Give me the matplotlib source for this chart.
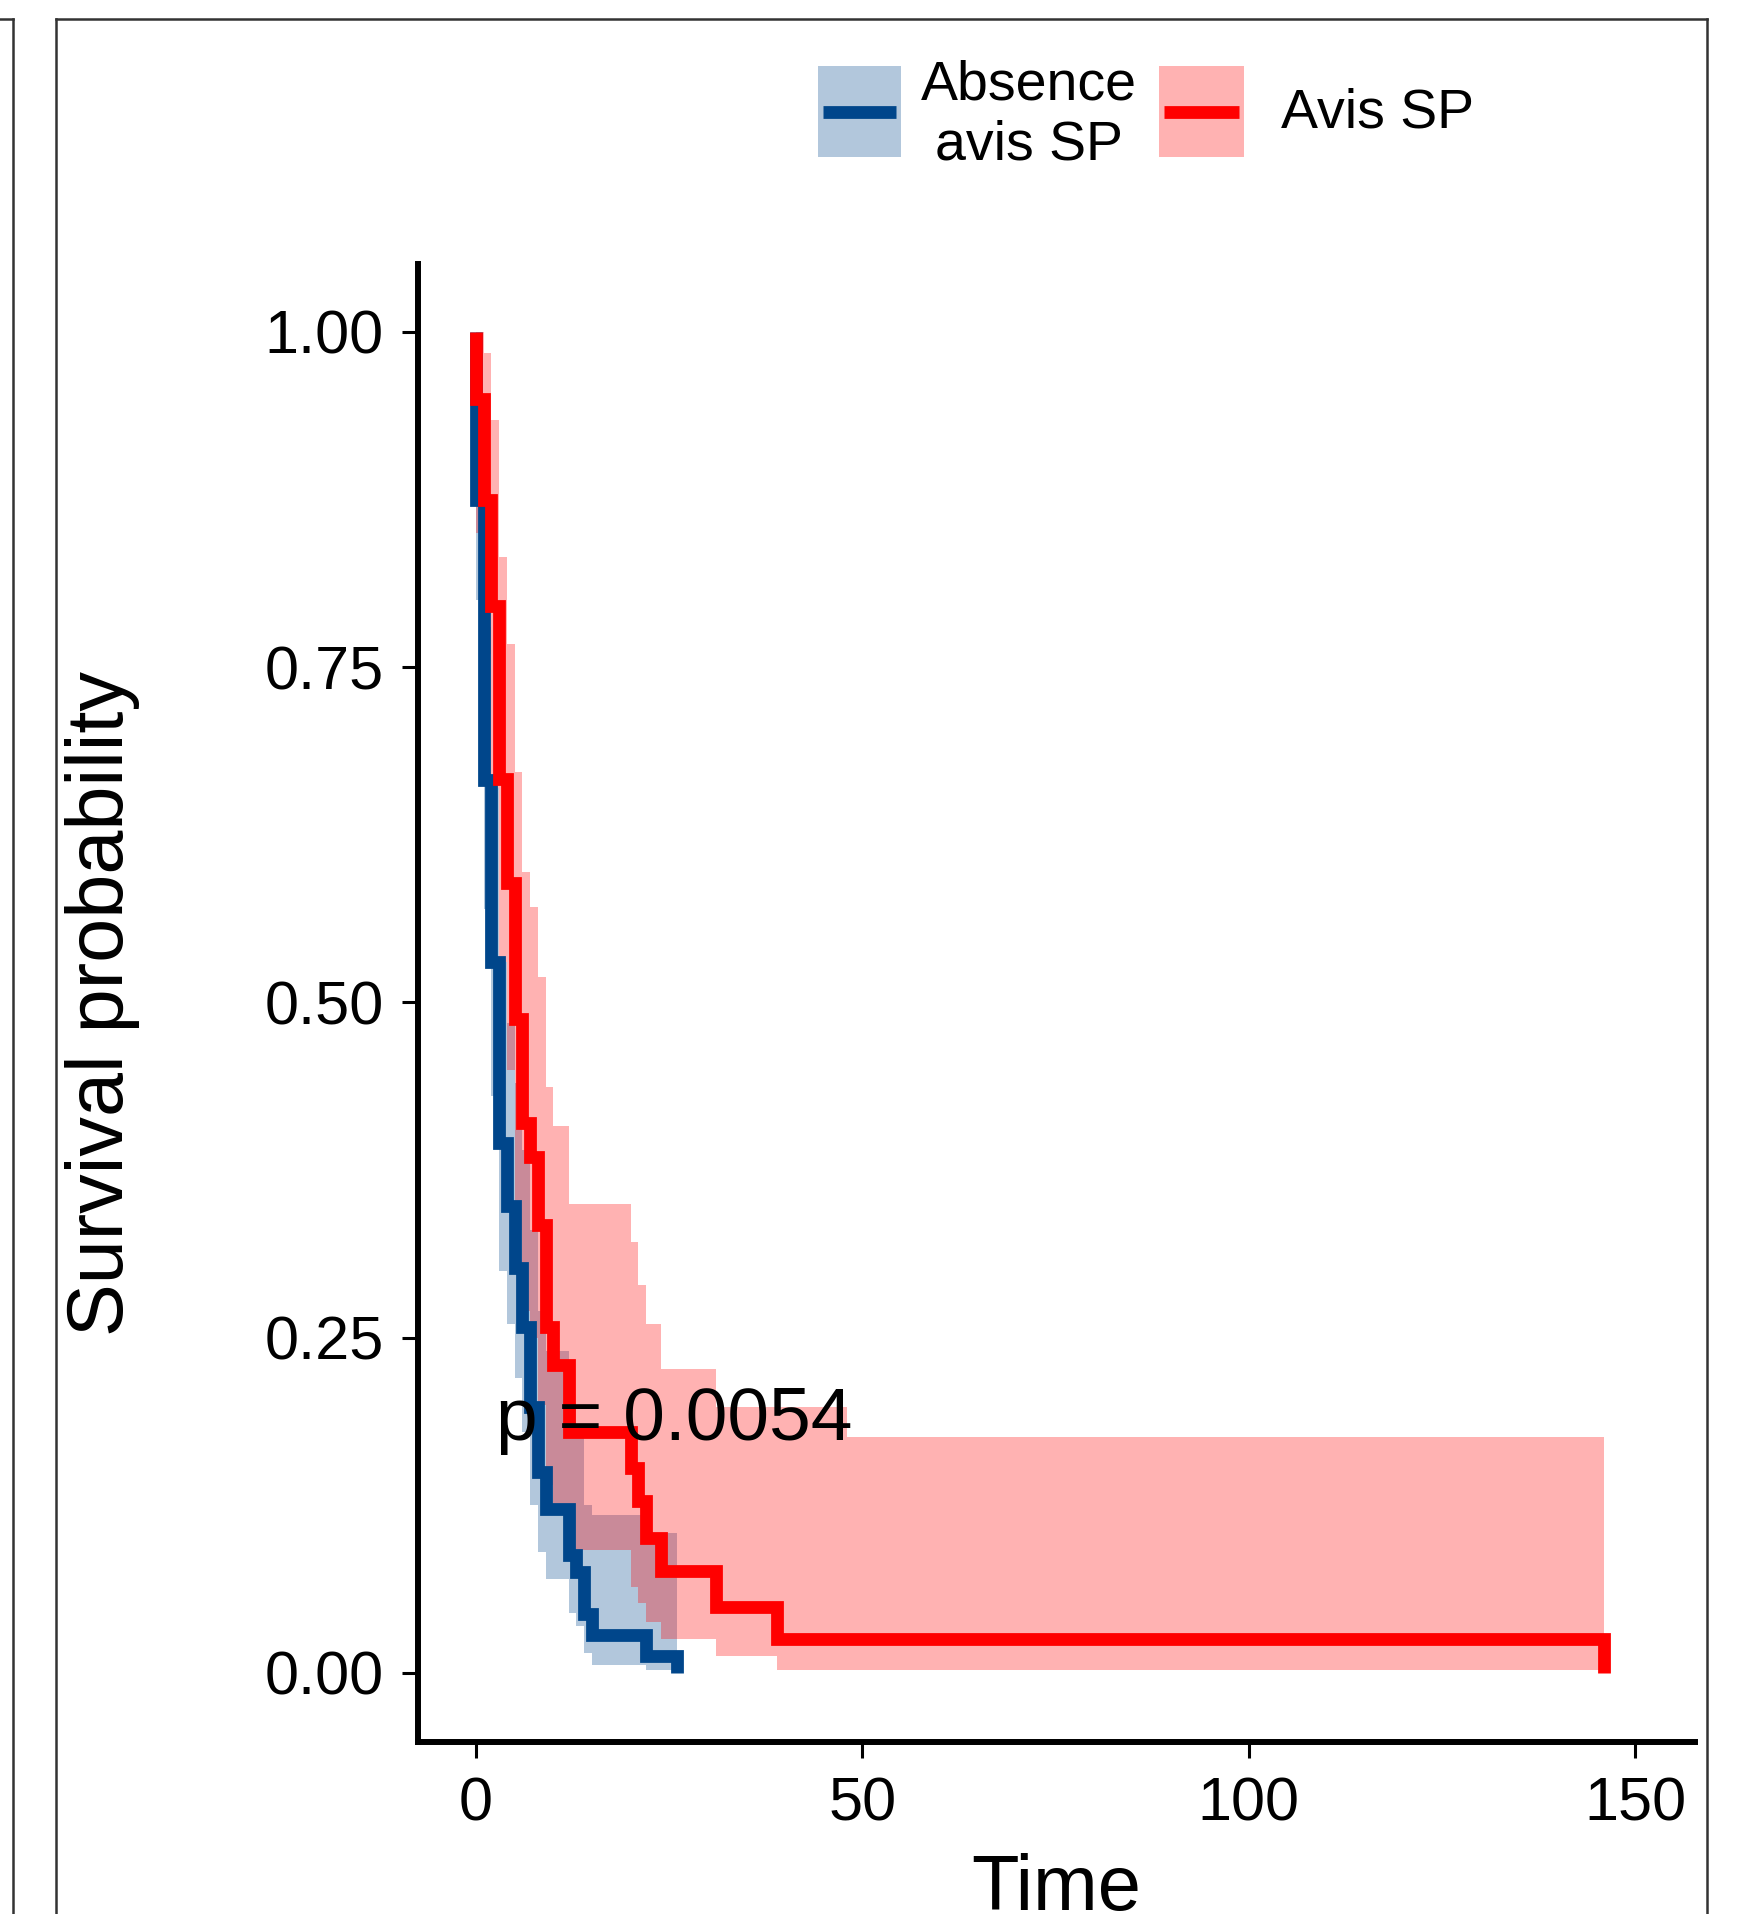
import matplotlib
matplotlib.use('Agg')
import matplotlib.pyplot as plt
from matplotlib.patches import Rectangle
from matplotlib.lines import Line2D
import numpy as np

plt.rcParams['font.family'] = ['Liberation Sans', 'DejaVu Sans']

# --- data ---
# group "Absence avis SP"
blue_time = [0, 1, 2, 3, 4, 5, 6, 7, 8, 9, 12, 13, 14, 15, 22, 26]
blue_surv = [0.875, 0.666, 0.530, 0.395, 0.348, 0.302, 0.258, 0.198, 0.150, 0.122,
             0.088, 0.075, 0.044, 0.028, 0.013, 0.0]
blue_upper = [0.95, 0.78, 0.66, 0.53, 0.485, 0.44, 0.39, 0.33, 0.27, 0.24,
              0.20, 0.18, 0.125, 0.118, 0.104, 0.104]
blue_lower = [0.80, 0.57, 0.43, 0.30, 0.26, 0.22, 0.18, 0.125, 0.09, 0.07,
              0.045, 0.035, 0.015, 0.006, 0.002, 0.002]

# group "Avis SP"
red_time = [0, 1, 2, 3, 4, 5, 6, 7, 8, 9, 10, 12, 20, 21, 22, 24, 31, 39, 146]
red_surv = [0.950, 0.875, 0.796, 0.667, 0.589, 0.488, 0.410, 0.385, 0.334, 0.258,
            0.230, 0.180, 0.153, 0.128, 0.101, 0.076, 0.049, 0.025, 0.0]
red_ci_time = [0, 1, 2, 3, 4, 5, 6, 7, 8, 9, 10, 12, 20, 21, 22, 24, 31, 39, 48, 146]
red_upper = [1.0, 0.984, 0.934, 0.832, 0.767, 0.672, 0.597, 0.571, 0.519, 0.437,
             0.408, 0.350, 0.321, 0.289, 0.260, 0.227, 0.198, 0.198, 0.176, 0.176]
red_lower = [0.85, 0.76, 0.66, 0.53, 0.45, 0.33, 0.27, 0.25, 0.20, 0.14,
             0.12, 0.092, 0.064, 0.052, 0.038, 0.025, 0.013, 0.002, 0.002, 0.002]

labels = ['Absence\navis SP', 'Avis SP']
pval_text = 'p = 0.0054'
x_ticks = [0, 50, 100, 150]
y_ticks = [0.0, 0.25, 0.5, 0.75, 1.0]

BLUE = '#00468B'
RED = '#FF0000'
LW = 9.2

W, H = 1744, 1914
fig = plt.figure(figsize=(W / 100, H / 100), dpi=100)


def fx(x):
    return x / W


def fy(y):
    return 1 - y / H


ax = fig.add_axes([fx(418), fy(1742), (1695 - 418) / W, (1742 - 264) / H])

# confidence bands
ax.fill_between(blue_time, blue_lower, blue_upper, step='post',
                color=BLUE, alpha=0.3, lw=0)
ax.fill_between(red_ci_time, red_lower, red_upper, step='post',
                color=RED, alpha=0.3, lw=0)

# survival curves
ax.step([0] + blue_time, [1.0] + blue_surv, where='post', color=BLUE, lw=LW,
        solid_joinstyle='miter', solid_capstyle='butt')
ax.step([0] + red_time, [1.0] + red_surv, where='post', color=RED, lw=LW,
        solid_joinstyle='miter', solid_capstyle='butt')

ax.text(2.6, 0.174, pval_text, fontsize=54, ha='left', va='baseline')

ax.set_xlim(-7.5, 157.75)
ax.set_ylim(-0.0515, 1.0507)
ax.set_xticks(x_ticks)
ax.set_yticks(y_ticks)
ax.set_yticklabels(['%.2f' % v for v in y_ticks])
ax.tick_params(axis='both', length=11.5, width=2.2, labelsize=44, pad=13,
               colors='black')
for s in ['top', 'right']:
    ax.spines[s].set_visible(False)
for s in ['left', 'bottom']:
    ax.spines[s].set_linewidth(4.3)

ax.set_xlabel('Time', fontsize=56)
ax.xaxis.set_label_coords(0.5, -0.0751)
ax.set_ylabel('Survival probability', fontsize=57)
ax.yaxis.set_label_coords(-0.2177, 0.5)

# legend drawn by hand at the top
keys = [(818, 901, BLUE), (1159, 1244, RED)]
for x0, x1, col in keys:
    fig.add_artist(Rectangle((fx(x0), fy(157)), fx(x1) - fx(x0), (157 - 66) / H,
                             transform=fig.transFigure, facecolor=col,
                             alpha=0.3, lw=0))
    fig.add_artist(Line2D([fx(x0 + 5), fx(x1 - 5)], [fy(111.5), fy(111.5)],
                          transform=fig.transFigure, color=col, lw=LW,
                          solid_capstyle='butt'))
fig.text(fx(1029), fy(115), labels[0], fontsize=40, ha='center', va='center',
         multialignment='center')
fig.text(fx(1281), fy(113), labels[1], fontsize=40, ha='left', va='center')

# panel frames
frame = dict(transform=fig.transFigure, color='#333333', lw=1.8)
fig.add_artist(Line2D([fx(56), fx(1707)], [fy(19), fy(19)], **frame))
fig.add_artist(Line2D([fx(56), fx(56)], [fy(19), 0], **frame))
fig.add_artist(Line2D([fx(1707), fx(1707)], [fy(19), 0], **frame))
fig.add_artist(Line2D([0, fx(13)], [fy(19), fy(19)], **frame))
fig.add_artist(Line2D([fx(13), fx(13)], [fy(19), 0], **frame))

fig.savefig('out.png', dpi=100)
